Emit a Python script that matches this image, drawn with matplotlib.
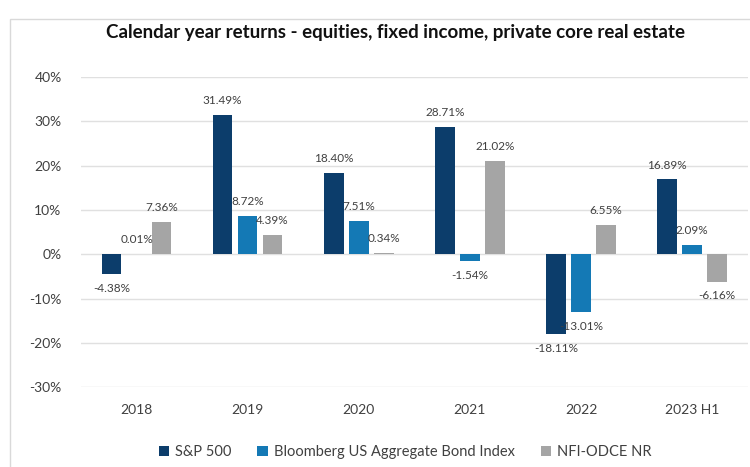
import matplotlib
matplotlib.use("Agg")
import matplotlib.pyplot as plt
from matplotlib.patches import Rectangle
import numpy as np

plt.rcParams['font.family'] = ['Lato', 'DejaVu Sans']

categories = ["2018", "2019", "2020", "2021", "2022", "2023 H1"]
series_names = ["S&P 500", "Bloomberg US Aggregate Bond Index", "NFI-ODCE NR"]
sp500 = [-4.38, 31.49, 18.40, 28.71, -18.11, 16.89]
bond = [0.01, 8.72, 7.51, -1.54, -13.01, 2.09]
nfi = [7.36, 4.39, 0.34, 21.02, 6.55, -6.16]
colors = ["#0c3d6b", "#1479b5", "#a5a5a5"]

fig = plt.figure(figsize=(7.5, 4.67), dpi=100)
ax = fig.add_axes([0.108, 0.171, 0.889, 0.664])

x = np.arange(len(categories))
w = 0.175
off = 0.225
for i, (vals, c, name) in enumerate(zip([sp500, bond, nfi], colors, series_names)):
    pos = x + (i - 1) * off
    ax.bar(pos, vals, width=w, color=c, label=name, zorder=3)
    for p, v in zip(pos, vals):
        if v >= 0:
            ax.text(p, v + 2.0, f"{v:.2f}%", ha='center', va='bottom', fontsize=8.5,
                    color='#404040', zorder=6)
        else:
            ax.text(p, v - 2.0, f"{v:.2f}%", ha='center', va='top', fontsize=8.5,
                    color='#404040', zorder=6)

ax.set_ylim(-30, 40)
ax.set_xlim(-0.5, len(categories) - 0.5)
ax.set_yticks(np.arange(-30, 41, 10))
ax.set_yticklabels([f"{t}%" for t in range(-30, 41, 10)])
ax.set_xticks(x)
ax.set_xticklabels(categories)
ax.tick_params(axis='both', length=0, labelsize=10, colors='#404040')
ax.tick_params(axis='x', pad=12)
ax.tick_params(axis='y', pad=14)
ax.grid(axis='y', color='#e0e0e0', linewidth=1, zorder=0)
for s in ax.spines.values():
    s.set_visible(False)

fig.text(0.527, 0.93, "Calendar year returns - equities, fixed income, private core real estate",
         ha='center', va='center', fontsize=13.5, fontweight='bold', color='#111111')

fig.legend(loc='center', bbox_to_anchor=(0.54, 0.032), ncol=3, frameon=False,
           fontsize=10.5, handlelength=0.7, handleheight=0.7, columnspacing=1.8, handletextpad=0.4,
           labelcolor='#404040')

fig.patches.append(Rectangle((0.013, -0.01), 1.0, 0.97, transform=fig.transFigure,
                             fill=False, edgecolor='#d9d9d9', linewidth=1))

fig.savefig("out.png", dpi=100)
